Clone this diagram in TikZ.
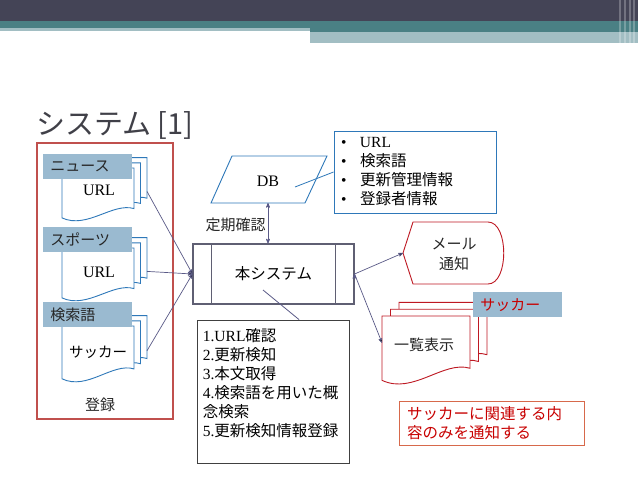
\documentclass[tikz,border=0pt]{standalone}
\usepackage{fontspec}
\setmainfont{Liberation Serif}
\newfontfamily\jp{Noto Sans CJK JP}
\usepackage{tikz}
\usetikzlibrary{positioning}
\usetikzlibrary{arrows}
\usetikzlibrary{calc}

\definecolor{bardark}{RGB}{68,68,86}
\definecolor{barteal}{RGB}{74,128,132}
\definecolor{barlight}{RGB}{162,190,195}
\definecolor{titlegray}{RGB}{64,64,72}
\definecolor{docblue}{RGB}{46,120,185}
\definecolor{tagfill}{RGB}{154,186,208}
\definecolor{regred}{RGB}{192,80,77}
\definecolor{outred}{RGB}{190,25,35}
\definecolor{noteorange}{RGB}{215,105,75}
\definecolor{notered}{RGB}{200,0,0}
\definecolor{flowline}{RGB}{90,90,135}
\definecolor{sysgray}{RGB}{95,95,115}

\tikzset{tag node/.style={fill=tagfill,inner xsep=7pt,inner ysep=0pt,text width=75pt,align=left,minimum height=25pt,font=\jp\fontsize{15}{15}\selectfont,text=black!85},
doc text/.style={font=\fontsize{16}{16}\selectfont,inner sep=0pt},
plain label/.style={font=\jp\fontsize{15}{19}\selectfont,text=black!85,inner sep=0pt},
flow/.style={->,draw=flowline,line width=0.7pt},
pics/stackdoc/.style n args={4}{code={
  \foreach \k in {2,1,0}
    \draw[#1,fill=white,line width=0.9pt,shift={({\k*#4},{-0.8*\k*#4})}]
      (0,0) -- (#2,0) -- (#2,{0.78*#3})
      .. controls ({0.7*#2},{0.66*#3}) and ({0.35*#2},{1.18*#3}) .. (0,{0.96*#3}) -- cycle;
  \coordinate (-out) at ({#2+2*#4},{0.45*#3});
  \coordinate (-in) at (0,{0.4*#3});
}},
}

\begin{document}
\begin{tikzpicture}[x=1pt, y=-1pt, >=stealth', semithick]
	\useasboundingbox (0,0) rectangle (638,479);
	\fill[white] (0,0) rectangle (638,479);

	% top bar
	\fill[bardark] (0,0) rectangle (638,21);
	\fill[barteal] (0,21) rectangle (638,28);
	\fill[barlight] (0,28) rectangle (310,31);
	\fill[barteal] (310,28) rectangle (638,32);
	\fill[barlight] (310,32) rectangle (638,43);
	\foreach \s in {619,624,629,633}
		\fill[white,opacity=0.25] (\s,0) rectangle ++(2,43);

	\node[anchor=base west, inner sep=0pt, text=titlegray, font=\jp\fontsize{29}{29}\selectfont] (title) at (36,134) {システム [1]};

	% registration side
	\node[draw=regred, line width=1.2pt, minimum width=136pt, minimum height=276pt, inner sep=0pt] (regframe) at (105,281) {};
	\pic (news) at (62,168) {stackdoc={docblue}{72}{52}{6.5}};
	\pic (sport) at (62,248) {stackdoc={docblue}{72}{52}{6.5}};
	\pic (word) at (62,326) {stackdoc={docblue}{72}{55}{6.5}};
	\node[tag node, anchor=north west] (newstag) at (43,154) {ニュース};
	\node[tag node, anchor=north west] (sporttag) at (43,227) {スポーツ};
	\node[tag node, anchor=north west] (wordtag) at (43,302) {検索語};
	\node[doc text] (newsurl) at (99,190) {URL};
	\node[doc text] (sporturl) at (99,272) {URL};
	\node[doc text, font=\jp\fontsize{14.5}{14.5}\selectfont] (wordtext) at (98,352) {サッカー};
	\node[plain label] (regtext) at (100,405) {登録};

	% DB and its contents
	\coordinate (dbbase) at (268,203);
	\draw[docblue, line width=0.9pt] (232,156) -- (327,156) -- (305,203) -- (211,203) -- cycle;
	\node[doc text] (db) at (268,181) {DB};
	\coordinate (dbmark) at (295,187);
	\node[draw=docblue, line width=0.9pt, minimum width=162pt, minimum height=82pt, inner xsep=7pt, text width=148pt, align=left, font=\jp\fontsize{15.5}{19}\selectfont] (dbitems) at (415,172)
		{\makebox[19pt][l]{\rmfamily\textbullet}{\rmfamily URL}\\
		 \makebox[19pt][l]{\rmfamily\textbullet}検索語\\
		 \makebox[19pt][l]{\rmfamily\textbullet}更新管理情報\\
		 \makebox[19pt][l]{\rmfamily\textbullet}登録者情報};
	\draw[docblue, line width=0.8pt] (dbmark) -- (dbitems.west);

	% main system
	\node[draw=sysgray, line width=1.1pt, minimum width=161pt, minimum height=60pt, inner sep=0pt, font=\jp\fontsize{15.5}{15.5}\selectfont] (sys) at (273.5,274) {本システム};
	\draw[sysgray, line width=1.1pt] ([xshift=19pt]sys.north west) -- ([xshift=19pt]sys.south west);
	\draw[sysgray, line width=1.1pt] ([xshift=-19pt]sys.north east) -- ([xshift=-19pt]sys.south east);
	\draw[<->, draw=flowline, line width=0.7pt] (dbbase) -- (dbbase |- sys.north);
	\node[plain label, anchor=east] (check) at (266,225) {定期確認};

	% steps
	\node[draw=black!75, line width=0.9pt, minimum width=152pt, minimum height=143pt, inner sep=0pt] (steps) at (273,391.5) {};
	\node[anchor=north west, inner sep=0pt, align=left, font=\jp\fontsize{15.5}{19}\selectfont] (stepstext) at ([shift={(6pt,-9pt)}]steps.north west)
		{{\rmfamily 1.URL}確認\\
		 {\rmfamily 2.}更新検知\\
		 {\rmfamily 3.}本文取得\\
		 {\rmfamily 4.}検索語を用いた概\\
		 念検索\\
		 {\rmfamily 5.}更新検知情報登録};
	\coordinate (sysmark) at (263,290);
	\draw[flowline, line width=0.8pt] (sysmark) -- ([xshift=26pt]steps.north);

	% outputs
	\coordinate (mailtip) at (403,253);
	\draw[outred, line width=0.9pt] (mailtip) -- (413,222) -- (488,222) .. controls (509,222) and (509,284) .. (488,284) -- (413,284) -- cycle;
	\node[plain label, align=center, font=\jp\fontsize{15}{20}\selectfont] (mail) at (454,254) {メール\\通知};
	\pic (list) at (382,316) {stackdoc={outred}{88}{67}{8.5}};
	\node[plain label] (listtext) at (424,345) {一覧表示};
	\node[tag node, anchor=north west, text=notered] (soccertag) at (473,292) {サッカー};
	\node[draw=noteorange, line width=0.9pt, minimum width=185pt, minimum height=44pt, inner xsep=8pt, text width=169pt, align=left, text=notered, font=\jp\fontsize{15.5}{19.5}\selectfont] (note) at (491.5,423) {サッカーに関連する内\\容のみを通知する};

	\path[flow]
	(news-out) edge (sys.west)
	(sport-out) edge (sys.west)
	(word-out) edge (sys.west)
	(sys.east) edge (mailtip)
	(sys.east) edge (list-in);
\end{tikzpicture}
\end{document}
